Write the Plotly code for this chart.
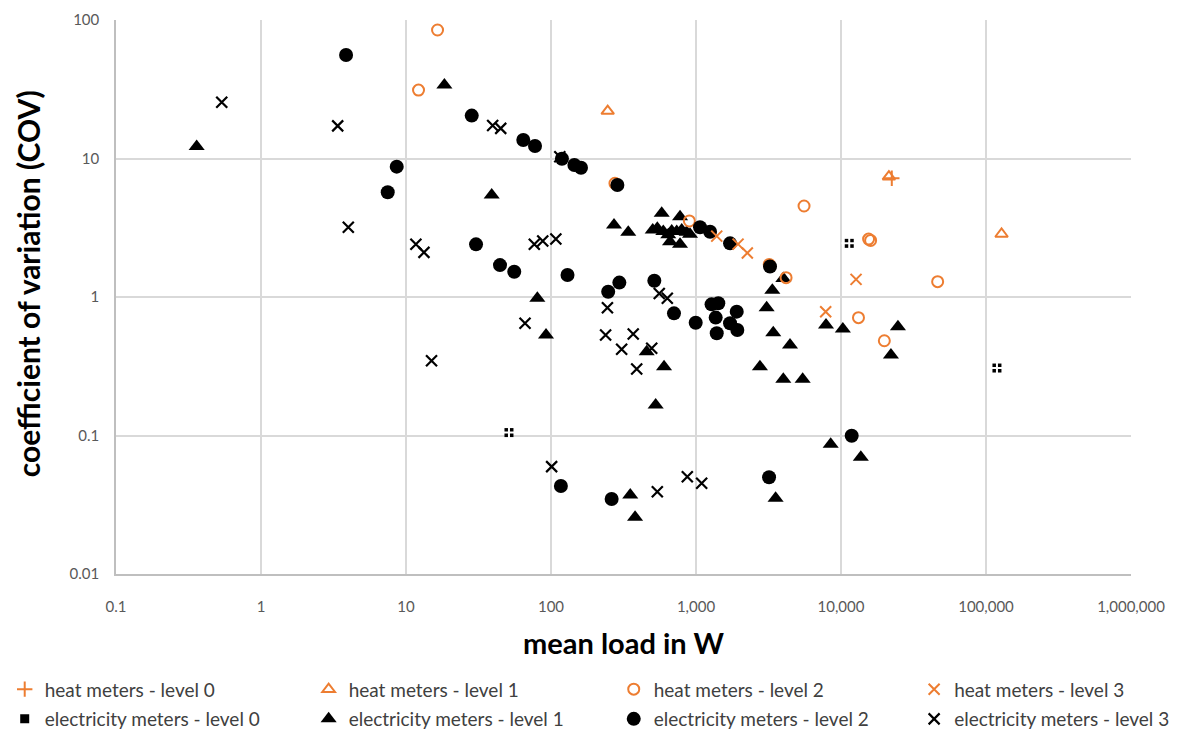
import plotly.graph_objects as go

ORANGE = "#ED7D31"
BLACK = "#000000"

# heat meters
heat0_x = [22400]
heat0_y = [7.2]

heat1_x = [246, 21400, 128000]
heat1_y = [22.0, 7.39, 2.85]

heat2_x = [16.5, 12.2, 276, 900, 5560, 3200, 4180, 15500, 16000, 46400, 13200, 19900]
heat2_y = [84.7, 31.2, 6.62, 3.54, 4.54, 1.72, 1.38, 2.62, 2.56, 1.29, 0.709, 0.483]

heat3_x = [1390, 1950, 2260, 7840, 12700]
heat3_y = [2.75, 2.41, 2.08, 0.783, 1.34]

# electricity meters
elec0_x = [51.3, 11400, 119000]
elec0_y = [0.105, 2.44, 0.307]

elec1_x = [0.36, 18.4, 39.0, 80.5, 92.4, 272, 341, 580, 776,
           503, 541, 595, 644, 680, 736, 797, 862, 909, 662, 776,
           457, 602, 527, 352, 380, 2760, 3070, 3360, 3410, 4000, 4450,
           4000, 5440, 7880, 10300, 8490, 13700, 22100, 24700, 3540]
elec1_y = [12.2, 34.0, 5.45, 0.98, 0.532, 3.31, 2.93, 4.02, 3.80,
           3.05, 3.14, 2.97, 2.81, 2.99, 2.97, 3.05, 2.93, 2.84, 2.51, 2.40,
           0.403, 0.314, 0.166, 0.0372, 0.0257, 0.314, 0.837, 1.12, 0.552, 1.36, 0.450,
           0.255, 0.255, 0.628, 0.587, 0.0864, 0.0696, 0.381, 0.611, 0.0352]

elec2_x = [3.86, 8.63, 7.48, 30.4, 28.4, 64.4, 77.6, 119, 145, 161, 287,
           44.5, 55.8, 130, 248, 296, 516, 705, 995, 1280, 1425, 1367, 1390,
           1717, 1909, 1927, 1066, 1250, 1717, 3240,
           117, 262, 3190, 11850]
elec2_y = [55.9, 8.73, 5.70, 2.40, 20.4, 13.6, 12.3, 9.97, 8.98, 8.58, 6.44,
           1.70, 1.52, 1.44, 1.09, 1.27, 1.31, 0.762, 0.652, 0.885, 0.901, 0.71, 0.547,
           0.646, 0.784, 0.578, 3.19, 2.96, 2.44, 1.66,
           0.0432, 0.0348, 0.0499, 0.0997]

elec3_x = [0.536, 3.38, 4.0, 11.7, 13.3, 15.0, 39.6, 45.0, 115, 76.7, 87.7, 108,
           66.2, 245, 238, 369, 307, 495, 390, 558, 634, 101, 541, 871, 1094]
elec3_y = [25.5, 17.2, 3.19, 2.40, 2.10, 0.347, 17.3, 16.5, 10.3, 2.40, 2.54, 2.62,
           0.646, 0.837, 0.532, 0.541, 0.419, 0.426, 0.302, 1.06, 0.978, 0.0596, 0.0393, 0.0504, 0.0452]

x_tickvals = [0.1, 1, 10, 100, 1000, 10000, 100000, 1000000]
x_ticktext = ["0.1", "1", "10", "100", "1,000", "10,000", "100,000", "1,000,000"]
y_tickvals = [0.01, 0.1, 1, 10, 100]
y_ticktext = ["0.01", "0.1", "1", "10", "100"]

x_title = "mean load in W"
y_title = "coefficient of variation (COV)"

FONT = "Lato"
fig = go.Figure()

def add(x, y, name, symbol, color, size, lw, legend, group, open_=False):
    marker = dict(symbol=symbol, size=size, color=color)
    if open_:
        marker["line"] = dict(color=color, width=lw)
    else:
        marker["line"] = dict(width=0)
    fig.add_trace(go.Scatter(x=x, y=y, mode="markers", name=name, marker=marker,
                             legend=legend, legendgroup=group))

add(heat0_x, heat0_y, "heat meters - level 0", "cross-thin-open", ORANGE, 11, 2, "legend", "h0", True)
add(elec0_x, elec0_y, "electricity meters - level 0", "square", BLACK, 9, 0, "legend", "e0")
fig.add_trace(go.Scatter(x=elec0_x, y=elec0_y, mode="markers", showlegend=False,
                         legend="legend", legendgroup="e0",
                         marker=dict(symbol="cross-thin-open", size=11, color="white",
                                     line=dict(color="white", width=2)), hoverinfo="skip"))
add(heat1_x, heat1_y, "heat meters - level 1", "triangle-up-open", ORANGE, 11, 2, "legend2", "h1", True)
add(elec1_x, elec1_y, "electricity meters - level 1", "triangle-up", BLACK, 14, 0, "legend2", "e1")
add(heat2_x, heat2_y, "heat meters - level 2", "circle-open", ORANGE, 11, 2, "legend3", "h2", True)
add(elec2_x, elec2_y, "electricity meters - level 2", "circle", BLACK, 14, 0, "legend3", "e2")
add(heat3_x, heat3_y, "heat meters - level 3", "x-thin-open", ORANGE, 11, 2, "legend4", "h3", True)
add(elec3_x, elec3_y, "electricity meters - level 3", "x-thin-open", BLACK, 11, 2.2, "legend4", "e3", True)

legend_common = dict(orientation="v", xref="container", yref="container", yanchor="top",
                     xanchor="left", y=0.088, font=dict(family=FONT, size=19, color="#404040"),
                     tracegroupgap=2, bgcolor="rgba(0,0,0,0)", itemwidth=30)

fig.update_layout(
    width=1178, height=735,
    margin=dict(l=116, r=47, t=20, b=161, autoexpand=False),
    paper_bgcolor="white", plot_bgcolor="white",
    font=dict(family=FONT, color="#595959"),
    legend=dict(x=0.004, **legend_common),
    legend2=dict(x=0.262, **legend_common),
    legend3=dict(x=0.521, **legend_common),
    legend4=dict(x=0.776, **legend_common),
    xaxis=dict(type="log", range=[-1, 6], tickvals=x_tickvals, ticktext=x_ticktext,
               showgrid=True, gridcolor="#d9d9d9", gridwidth=1.5, automargin=False,
               showline=True, linecolor="#bfbfbf", linewidth=1.5, mirror=False,
               zeroline=False, ticks="", tickangle=0,
               tickfont=dict(family=FONT, size=15, color="#595959"),
               ticklabelstandoff=18),
    yaxis=dict(type="log", range=[-2, 2], tickvals=y_tickvals, ticktext=y_ticktext,
               showgrid=True, gridcolor="#d9d9d9", gridwidth=1.5, automargin=False,
               showline=True, linecolor="#bfbfbf", linewidth=1.5,
               zeroline=False, ticks="", tickfont=dict(family=FONT, size=15, color="#595959"),
               ticklabelstandoff=12),
    annotations=[
        dict(text="<b>" + x_title + "</b>", xref="paper", yref="paper", x=0.5, y=-0.1245,
             xanchor="center", yanchor="middle", showarrow=False,
             font=dict(family=FONT, size=29, color="#000000")),
        dict(text="<b>" + y_title + "</b>", xref="paper", yref="paper", x=-0.0867, y=0.525,
             xanchor="center", yanchor="middle", showarrow=False, textangle=-90,
             font=dict(family=FONT, size=30, color="#000000")),
    ],
)

fig.write_html("out.html")
